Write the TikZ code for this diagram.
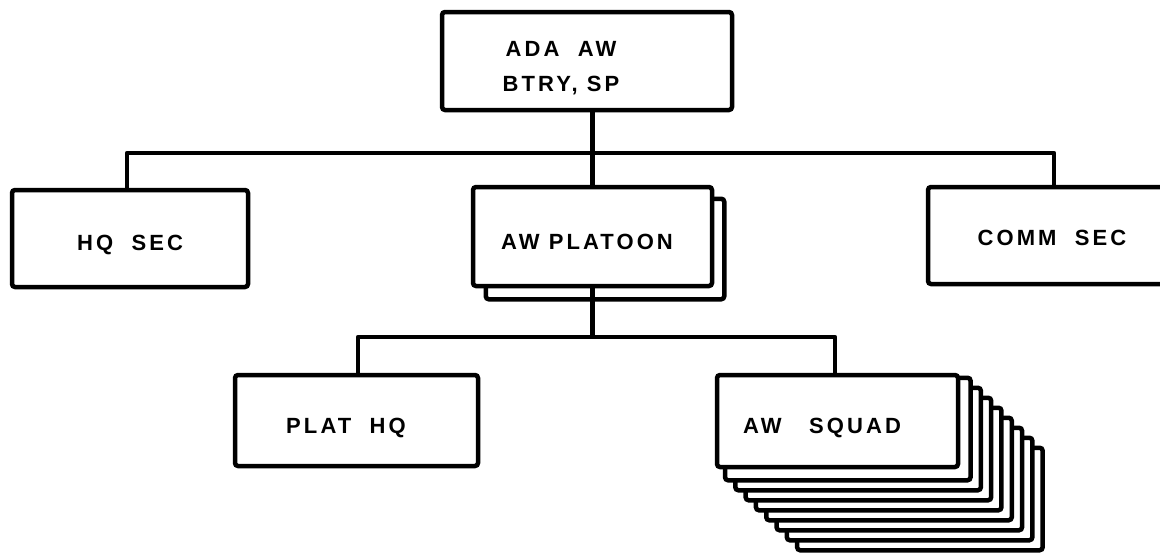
\documentclass[tikz,border=0pt]{standalone}
\usepackage{fontspec}
\newfontfamily\orgfont{Liberation Sans}[LetterSpace=14]
\usetikzlibrary{backgrounds,positioning}

\tikzset{
	unit/.style={draw, line width=4.5pt, rounded corners=3pt, fill=white, inner sep=0pt},
	lbl/.style={font=\orgfont\bfseries\fontsize{22}{35}\selectfont, inner sep=0pt, align=center},
	link/.style={line width=4.5pt, line join=round},
}

\begin{document}
\begin{tikzpicture}[x=1pt, y=-1pt]

		% === page bounds ===
		\useasboundingbox (0,0) rectangle (1160,554);
		\clip (0,0) rectangle (1160,554);

		% === Unit boxes ===
		\node[unit, minimum width=290pt, minimum height=98pt] (btry)   at (587,61)      {};
		\node[unit, minimum width=236pt, minimum height=97pt] (hq)     at (130,238.5)   {};
		\node[unit, minimum width=239pt, minimum height=99pt] (plt)    at (592.5,236.5) {};
		\node[unit, minimum width=250pt, minimum height=97pt] (comm)   at (1053,235.5)  {};
		\node[unit, minimum width=243pt, minimum height=91pt] (plathq) at (356.5,420.5) {};
		\node[unit, minimum width=241pt, minimum height=92pt] (squad)  at (837.5,421)   {};

		% === Stacked copies (drawn behind) ===
		\begin{scope}[on background layer]
			\draw[unit] ([shift={(15,14)}]plt.north west) rectangle ([shift={(10,11)}]plt.south east);
			\foreach \i in {8,...,1} {
				\draw[unit] ([shift={({10.3*\i},{10*\i-5})}]squad.north west)
					rectangle ([shift={({10.3*\i},{10*\i+1})}]squad.south east);
			}
		\end{scope}

		% === Labels ===
		\node[lbl] (btryt)   at (561,68)   {ADA\ \ AW\\BTRY,\ SP};
		\node[lbl] (hqt)     at (130,245)  {HQ\ \ SEC};
		\node[lbl] (pltt)    at (587,242)  {AW\ PLATOON};
		\node[lbl] (commt)   at (1052,238) {COMM\ \ SEC};
		\node[lbl] (plathqt) at (346,428)  {PLAT\ \ HQ};
		\node[lbl] (squadt)  at (822,428)  {AW\ \ \ SQUAD};

		% === Connectors ===
		\coordinate (busL)  at (127,153);
		\coordinate (busR)  at (1054,153);
		\coordinate (bus2L) at (358,337);
		\coordinate (bus2R) at (835,337);

		\draw[link] (btry.south -| plt.north) -- (plt.north);
		\draw[link] (busL |- hq.north) -- (busL) -- (busR) -- (busR |- comm.north);
		\draw[link] (plt.south) -- (plt.south |- bus2L);
		\draw[link] (bus2L |- plathq.north) -- (bus2L) -- (bus2R) -- (bus2R |- squad.north);
	\end{tikzpicture}
\end{document}
